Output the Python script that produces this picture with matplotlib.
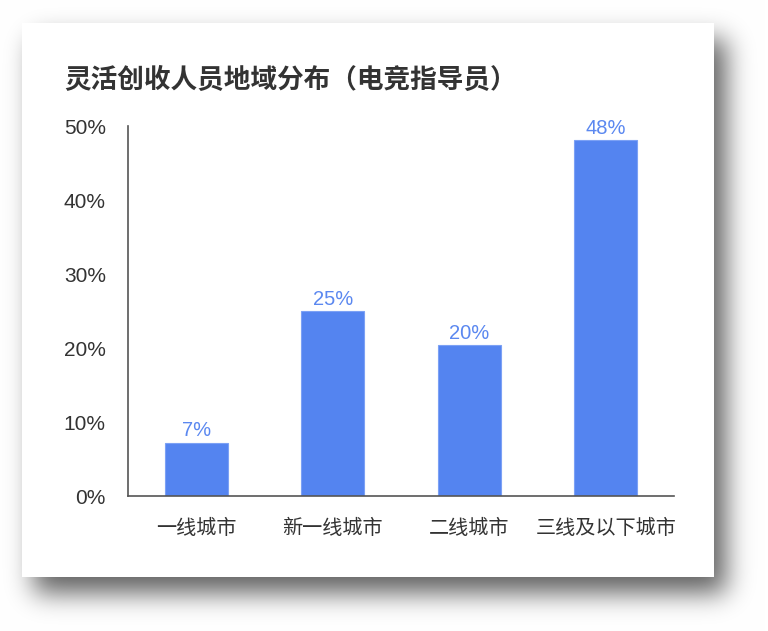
import numpy as np
import matplotlib
matplotlib.use('Agg')
import matplotlib.pyplot as plt
from matplotlib.patches import Rectangle

plt.rcParams['font.family'] = ['Noto Sans CJK SC', 'DejaVu Sans']
num_font = ['Liberation Sans', 'DejaVu Sans']

# data
categories = ['一线城市', '新一线城市', '二线城市', '三线及以下城市']
shares = [7.2, 25.0, 20.4, 48.1]
yticks = [0, 10, 20, 30, 40, 50]
title = '灵活创收人员地域分布（电竞指导员）'

W, H = 768, 631
fig = plt.figure(figsize=(W / 100, H / 100), dpi=100)

# card with blurred drop shadow
card = (22, 23, 714, 577)  # x0, y0, x1, y1 in pixels (top-left origin)
dx, dy, sigma, dark = 12, 16, 13, 0.62
mask = np.zeros((H, W))
mask[card[1] + dy:card[3] + dy, card[0] + dx:card[2] + dx] = 1.0
r = int(sigma * 3)
k = np.exp(-0.5 * (np.arange(-r, r + 1) / sigma) ** 2)
k /= k.sum()
mask = np.apply_along_axis(lambda v: np.convolve(v, k, mode='same'), 0, mask)
mask = np.apply_along_axis(lambda v: np.convolve(v, k, mode='same'), 1, mask)
bg = 1.0 - dark * mask
img = np.dstack([bg, bg, bg])

bgax = fig.add_axes([0, 0, 1, 1])
bgax.imshow(img, extent=(0, W, H, 0), interpolation='nearest', aspect='auto')
bgax.add_patch(Rectangle((card[0], card[1]), card[2] - card[0], card[3] - card[1],
                         facecolor='white', edgecolor='none'))
bgax.set_xlim(0, W)
bgax.set_ylim(H, 0)
bgax.axis('off')

fig.text(64 / W, 1 - 80 / H, title, fontsize=19.2, fontweight='bold',
         color='#333333', ha='left', va='center')

ax = fig.add_axes([128 / W, 1 - 496 / H, (674 - 128) / W, (496 - 126) / H])
ax.patch.set_alpha(0)
x = np.arange(len(categories))
bars = ax.bar(x, shares, width=0.46, color='#5484F0', edgecolor='#7ca1f5', linewidth=0.8)
for b, v in zip(bars, shares):
    ax.text(b.get_x() + b.get_width() / 2, v + 0.3, f'{round(v)}%',
            ha='center', va='bottom', fontsize=14.5, color='#5b88f0', family=num_font)

ax.set_xlim(-0.5, len(categories) - 0.5)
ax.set_ylim(0, 50)
ax.set_yticks(yticks)
ax.set_yticklabels([f'{t}%' for t in yticks], family=num_font)
ax.set_xticks(x)
ax.set_xticklabels(categories)
ax.tick_params(axis='y', length=0, pad=16, labelsize=15, labelcolor='#333333')
ax.tick_params(axis='x', length=0, pad=16, labelsize=14.5, labelcolor='#333333')
for s in ['top', 'right']:
    ax.spines[s].set_visible(False)
for s in ['left', 'bottom']:
    ax.spines[s].set_color('#555555')
    ax.spines[s].set_linewidth(1.2)

fig.savefig('out.png', dpi=100)
